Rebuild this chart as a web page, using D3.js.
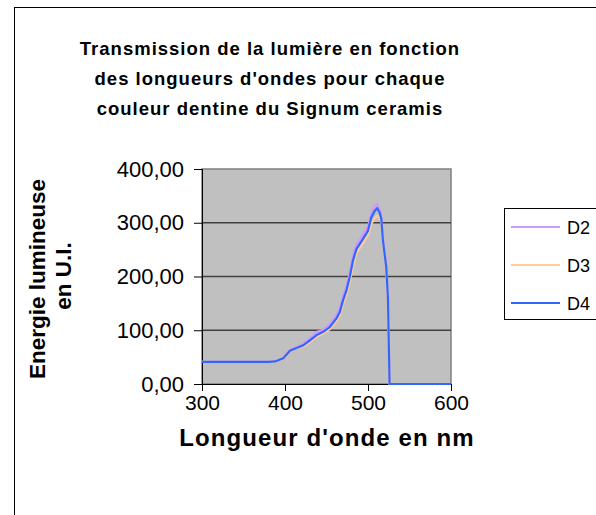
<!DOCTYPE html>
<html>
<head>
<meta charset="utf-8">
<script src="https://cdn.jsdelivr.net/npm/d3@7"></script>
<style>
  body { margin: 0; background: #fff; }
  text { font-family: "Liberation Sans", Arial, sans-serif; }
</style>
</head>
<body>
<div id="vis"></div>
<script>
// values
const wavelengths = [300, 310, 320, 330, 340, 350, 360, 370, 380, 388, 398, 406, 414, 422, 430, 438, 446, 454, 462, 466, 470, 474, 478, 482, 486, 494, 500, 504, 508, 511, 514, 516, 518, 522, 524, 526, 530, 550, 575, 600]
const d2 = [41, 41, 41, 41, 41, 41, 41, 41, 41, 42, 49, 63, 69, 75, 85, 97, 101, 111, 128, 141, 163, 181, 207, 239, 259, 278, 293, 317, 331, 335, 326, 311, 268, 217, 162, 0, 0, 0, 0, 0]
const d3v = [41, 41, 41, 41, 41, 41, 41, 41, 41, 42, 47, 61, 66, 70, 78, 88, 94, 102, 117, 128, 149, 166, 190, 220, 243, 262, 277, 298, 308, 313, 310, 300, 264, 214, 160, 0, 0, 0, 0, 0]
const d4 = [41, 41, 41, 41, 41, 41, 41, 41, 41, 42, 48, 62, 67, 72, 81, 91, 97, 106, 122, 134, 156, 174, 199, 230, 251, 270, 285, 310, 322, 327, 319, 307, 267, 217, 162, 0, 0, 0, 0, 0]

const seriesNames = ['D2', 'D3', 'D4']
const seriesColors = ['#cc99ff', '#ffcc99', '#3366ff']
const seriesValues = [d2, d3v, d4]

const xTicks = [300, 400, 500, 600]
const yTicks = [0, 100, 200, 300, 400]

const titleLines = ['Transmission de la lumière en fonction',
                    'des longueurs d\'ondes pour chaque',
                    'couleur dentine du Signum ceramis']

const plot = {left: 202, top: 169, right: 451, bottom: 384}

let svg = d3.select('#vis').append('svg')
    .attr('width', 596)
    .attr('height', 515)

// outer chart frame
svg.append('rect')
    .attr('x', 14.5).attr('y', 7.5)
    .attr('width', 700).attr('height', 700)
    .attr('fill', 'none')
    .attr('stroke', '#000')

let x = d3.scaleLinear([300, 600], [plot.left, plot.right])
let y = d3.scaleLinear([0, 400], [plot.bottom, plot.top])

// plot area
svg.append('rect')
    .attr('x', plot.left).attr('y', plot.top)
    .attr('width', plot.right - plot.left).attr('height', plot.bottom - plot.top)
    .attr('fill', '#c0c0c0')
    .attr('stroke', '#808080')
    .attr('stroke-width', 1.5)

// gridlines
svg.selectAll('.grid')
    .data(yTicks.filter(d => d > 0 && d < 400))
    .enter()
    .append('line')
        .attr('class', 'grid')
        .attr('x1', plot.left).attr('x2', plot.right)
        .attr('y1', d => y(d)).attr('y2', d => y(d))
        .attr('stroke', '#404040')
        .attr('stroke-width', 1.3)

let yAxis = d3.axisLeft(y)
    .tickValues(yTicks)
    .tickSize(8)
    .tickPadding(10)
    .tickFormat(d => d3.format('.2f')(d).replace('.', ','))

svg.append('g')
    .attr('transform', `translate(${plot.left},0)`)
    .call(yAxis)
    .call(g => g.selectAll('text').attr('font-size', 22).attr('fill', '#000').attr('font-family', 'Liberation Sans, Arial'))
    .call(g => g.selectAll('line, path').attr('stroke', '#000'))

let xAxis = d3.axisBottom(x)
    .tickValues(xTicks)
    .tickSize(7)
    .tickPadding(4)

svg.append('g')
    .attr('transform', `translate(0,${plot.bottom})`)
    .call(xAxis)
    .call(g => g.select('.domain').attr('d', `M${plot.left},0.5H${plot.right}`))
    .call(g => g.selectAll('text').attr('font-size', 21).attr('fill', '#000').attr('font-family', 'Liberation Sans, Arial'))
    .call(g => g.selectAll('line, path').attr('stroke', '#000'))

// series lines
let line = d3.line()
    .x((d, i) => x(wavelengths[i]))
    .y(d => y(d))

svg.selectAll('.series')
    .data(seriesValues)
    .enter()
    .append('path')
        .attr('class', 'series')
        .attr('d', d => line(d))
        .attr('fill', 'none')
        .attr('stroke', (d, i) => seriesColors[i])
        .attr('stroke-width', 2.2)

// title
svg.selectAll('.title')
    .data(titleLines)
    .enter()
    .append('text')
        .attr('class', 'title')
        .attr('x', 270)
        .attr('y', (d, i) => 55 + i * 30)
        .attr('text-anchor', 'middle')
        .attr('font-size', 18.5)
        .attr('font-weight', 'bold')
        .attr('letter-spacing', 1)
        .text(d => d)

// axis titles
svg.append('text')
    .attr('x', 327).attr('y', 446)
    .attr('text-anchor', 'middle')
    .attr('font-size', 24)
    .attr('font-weight', 'bold')
    .attr('letter-spacing', 1.1)
    .text('Longueur d\'onde en nm')

svg.append('text')
    .attr('transform', 'translate(45,279) rotate(-90)')
    .attr('text-anchor', 'middle')
    .attr('font-size', 22.5)
    .attr('font-weight', 'bold')
    .text('Energie lumineuse')

svg.append('text')
    .attr('transform', 'translate(71,276) rotate(-90)')
    .attr('text-anchor', 'middle')
    .attr('font-size', 22.5)
    .attr('font-weight', 'bold')
    .text('en U.I.')

// legend
svg.append('rect')
    .attr('x', 504.5).attr('y', 208.5)
    .attr('width', 120).attr('height', 111)
    .attr('fill', '#fff')
    .attr('stroke', '#000')

let legend = svg.selectAll('.legend')
    .data(seriesNames)
    .enter()
    .append('g')
        .attr('class', 'legend')
        .attr('transform', (d, i) => `translate(511,${227 + i * 38})`)

legend.append('line')
    .attr('x1', 0).attr('x2', 49)
    .attr('stroke', (d, i) => seriesColors[i])
    .attr('stroke-width', 2)

legend.append('text')
    .attr('x', 56).attr('y', 7)
    .attr('font-size', 18)
    .text(d => d)
</script>
</body>
</html>
